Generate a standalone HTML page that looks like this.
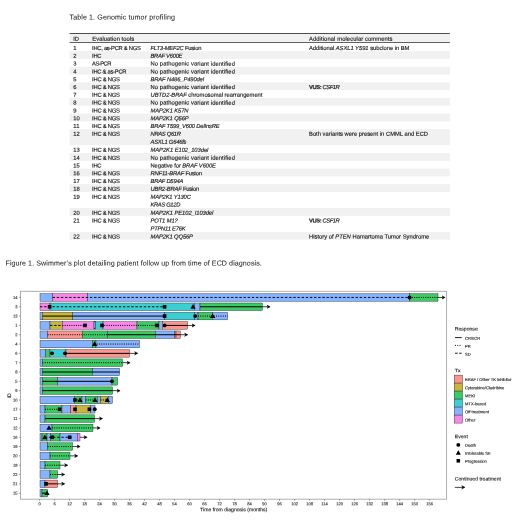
<!DOCTYPE html>
<html><head><meta charset="utf-8"><title>Figure</title>
<style>
html,body{margin:0;padding:0;background:#fff;}
body{width:520px;height:530px;position:relative;overflow:hidden;font-family:"Liberation Sans",sans-serif;color:#1a1a1a;text-rendering:geometricPrecision;}
.tb{font-size:5.8px;fill:#1a1a1a;stroke:#1a1a1a;stroke-width:0.15px;}
.tt,.cap{font-size:7.1px;fill:#222;stroke:#222;stroke-width:0.04px;}
svg{position:absolute;left:0;top:0;}
svg text{font-family:"Liberation Sans",sans-serif;text-rendering:geometricPrecision;}
.k{fill:#1a1a1a;stroke:#1a1a1a;stroke-width:0.12px;}
.g{fill:#3a3a3a;stroke:#3a3a3a;stroke-width:0.14px;}
#wrap{position:absolute;left:0;top:0;width:520px;height:530px;will-change:transform;}
</style></head><body><div id="wrap">
<svg width="520" height="530" viewBox="0 0 520 530">
<defs><marker id="ah" markerWidth="8" markerHeight="8" refX="3.3" refY="4" orient="auto" markerUnits="userSpaceOnUse"><path d="M0.3,2.2 L3.6,4 L0.3,5.8 L1.3,4 Z" fill="#000" stroke="#000" stroke-width="0.3" stroke-linejoin="round"/></marker></defs>
<text class="t tt" transform="translate(69.50,19.55) rotate(0.03)" letter-spacing="0.106">Table 1. Genomic tumor profiling</text>
<rect x="69.6" y="33.7" width="380.30" height="8.5" fill="#f1f1f1"/>
<rect x="69.6" y="33.0" width="380.30" height="0.8" fill="#222"/>
<rect x="69.6" y="42.15" width="380.30" height="0.7" fill="#222"/>
<text class="t tb" transform="translate(73.30,40.80) rotate(0.03)" letter-spacing="-0.118">ID</text>
<text class="t tb" transform="translate(92.30,40.80) rotate(0.03)" letter-spacing="0.056">Evaluation tools</text>
<text class="t tb" transform="translate(309.00,40.80) rotate(0.03)" letter-spacing="0.103">Additional molecular comments</text>
<text class="t tb" transform="translate(73.30,50.00) rotate(0.03)" letter-spacing="0.025">1</text>
<text class="t tb" transform="translate(92.10,50.00) rotate(0.03)" letter-spacing="-0.281">IHC, as-PCR &amp; NGS</text>
<text class="t tb" transform="translate(150.50,50.00) rotate(0.03)" letter-spacing="-0.168"><tspan font-style="italic">FLT3-MEF2C</tspan> Fusion</text>
<text class="t tb" transform="translate(309.00,50.00) rotate(0.03)" letter-spacing="-0.030">Additional <tspan font-style="italic">ASXL1 Y591</tspan> subclone in BM</text>
<rect x="69.6" y="51.15" width="380.30" height="7.80" fill="#f1f1f1"/>
<text class="t tb" transform="translate(73.30,57.80) rotate(0.03)" letter-spacing="0.025">2</text>
<text class="t tb" transform="translate(92.10,57.80) rotate(0.03)" letter-spacing="-0.310">IHC</text>
<text class="t tb" transform="translate(150.50,57.80) rotate(0.03)" letter-spacing="-0.269"><tspan font-style="italic">BRAF V600E</tspan></text>
<text class="t tb" transform="translate(73.30,65.60) rotate(0.03)" letter-spacing="0.025">3</text>
<text class="t tb" transform="translate(92.10,65.60) rotate(0.03)" letter-spacing="-0.504">AS-PCR</text>
<text class="t tb" transform="translate(150.50,65.60) rotate(0.03)" letter-spacing="0.102">No pathogenic variant identified</text>
<rect x="69.6" y="66.75" width="380.30" height="7.80" fill="#f1f1f1"/>
<text class="t tb" transform="translate(73.30,73.40) rotate(0.03)" letter-spacing="0.025">4</text>
<text class="t tb" transform="translate(92.10,73.40) rotate(0.03)" letter-spacing="-0.268">IHC &amp; as-PCR</text>
<text class="t tb" transform="translate(150.50,73.40) rotate(0.03)" letter-spacing="0.102">No pathogenic variant identified</text>
<text class="t tb" transform="translate(73.30,81.20) rotate(0.03)" letter-spacing="0.025">5</text>
<text class="t tb" transform="translate(92.10,81.20) rotate(0.03)" letter-spacing="-0.237">IHC &amp; NGS</text>
<text class="t tb" transform="translate(150.50,81.20) rotate(0.03)" letter-spacing="-0.113"><tspan font-style="italic">BRAF N486_P490del</tspan></text>
<rect x="69.6" y="82.35" width="380.30" height="7.80" fill="#f1f1f1"/>
<text class="t tb" transform="translate(73.30,89.00) rotate(0.03)" letter-spacing="0.025">6</text>
<text class="t tb" transform="translate(92.10,89.00) rotate(0.03)" letter-spacing="-0.237">IHC &amp; NGS</text>
<text class="t tb" transform="translate(150.50,89.00) rotate(0.03)" letter-spacing="0.102">No pathogenic variant identified</text>
<text class="t tb" transform="translate(309.00,89.00) rotate(0.03)" letter-spacing="-0.414"><tspan font-weight="bold">VUS:</tspan> <tspan font-style="italic">CSF1R</tspan></text>
<text class="t tb" transform="translate(73.30,96.80) rotate(0.03)" letter-spacing="0.025">7</text>
<text class="t tb" transform="translate(92.10,96.80) rotate(0.03)" letter-spacing="-0.237">IHC &amp; NGS</text>
<text class="t tb" transform="translate(150.50,96.80) rotate(0.03)" letter-spacing="-0.015"><tspan font-style="italic">UBTD2-BRAF</tspan> chromosomal rearrangement</text>
<rect x="69.6" y="97.95" width="380.30" height="7.80" fill="#f1f1f1"/>
<text class="t tb" transform="translate(73.30,104.60) rotate(0.03)" letter-spacing="0.025">8</text>
<text class="t tb" transform="translate(92.10,104.60) rotate(0.03)" letter-spacing="-0.237">IHC &amp; NGS</text>
<text class="t tb" transform="translate(150.50,104.60) rotate(0.03)" letter-spacing="0.102">No pathogenic variant identified</text>
<text class="t tb" transform="translate(73.30,112.40) rotate(0.03)" letter-spacing="0.025">9</text>
<text class="t tb" transform="translate(92.10,112.40) rotate(0.03)" letter-spacing="-0.237">IHC &amp; NGS</text>
<text class="t tb" transform="translate(150.50,112.40) rotate(0.03)" letter-spacing="-0.104"><tspan font-style="italic">MAP2K1 K57N</tspan></text>
<rect x="69.6" y="113.55" width="380.30" height="7.80" fill="#f1f1f1"/>
<text class="t tb" transform="translate(73.30,120.20) rotate(0.03)" letter-spacing="0.032">10</text>
<text class="t tb" transform="translate(92.10,120.20) rotate(0.03)" letter-spacing="-0.237">IHC &amp; NGS</text>
<text class="t tb" transform="translate(150.50,120.20) rotate(0.03)" letter-spacing="-0.118"><tspan font-style="italic">MAP2K1 Q56P</tspan></text>
<text class="t tb" transform="translate(73.30,128.00) rotate(0.03)" letter-spacing="0.243">11</text>
<text class="t tb" transform="translate(92.10,128.00) rotate(0.03)" letter-spacing="-0.237">IHC &amp; NGS</text>
<text class="t tb" transform="translate(150.50,128.00) rotate(0.03)" letter-spacing="-0.181"><tspan font-style="italic">BRAF T599_V600 DelInsRE</tspan></text>
<rect x="69.6" y="129.15" width="380.30" height="16.05" fill="#f1f1f1"/>
<text class="t tb" transform="translate(73.30,135.80) rotate(0.03)" letter-spacing="0.032">12</text>
<text class="t tb" transform="translate(92.10,135.80) rotate(0.03)" letter-spacing="-0.237">IHC &amp; NGS</text>
<text class="t tb" transform="translate(150.50,135.80) rotate(0.03)" letter-spacing="-0.308"><tspan font-style="italic">NRAS Q61R</tspan></text>
<text class="t tb" transform="translate(150.50,143.70) rotate(0.03)" letter-spacing="-0.218"><tspan font-style="italic">ASXL1 G646fs</tspan></text>
<text class="t tb" transform="translate(309.00,135.80) rotate(0.03)" letter-spacing="0.009">Both variants were present in CMML and ECD</text>
<text class="t tb" transform="translate(73.30,151.85) rotate(0.03)" letter-spacing="0.032">13</text>
<text class="t tb" transform="translate(92.10,151.85) rotate(0.03)" letter-spacing="-0.237">IHC &amp; NGS</text>
<text class="t tb" transform="translate(150.50,151.85) rotate(0.03)" letter-spacing="-0.048"><tspan font-style="italic">MAP2K1 E102_103del</tspan></text>
<rect x="69.6" y="153.00" width="380.30" height="7.80" fill="#f1f1f1"/>
<text class="t tb" transform="translate(73.30,159.65) rotate(0.03)" letter-spacing="0.032">14</text>
<text class="t tb" transform="translate(92.10,159.65) rotate(0.03)" letter-spacing="-0.237">IHC &amp; NGS</text>
<text class="t tb" transform="translate(150.50,159.65) rotate(0.03)" letter-spacing="0.102">No pathogenic variant identified</text>
<text class="t tb" transform="translate(73.30,167.45) rotate(0.03)" letter-spacing="0.032">15</text>
<text class="t tb" transform="translate(92.10,167.45) rotate(0.03)" letter-spacing="-0.310">IHC</text>
<text class="t tb" transform="translate(150.50,167.45) rotate(0.03)" letter-spacing="-0.082">Negative for <tspan font-style="italic">BRAF V600E</tspan></text>
<rect x="69.6" y="168.60" width="380.30" height="7.80" fill="#f1f1f1"/>
<text class="t tb" transform="translate(73.30,175.25) rotate(0.03)" letter-spacing="0.032">16</text>
<text class="t tb" transform="translate(92.10,175.25) rotate(0.03)" letter-spacing="-0.237">IHC &amp; NGS</text>
<text class="t tb" transform="translate(150.50,175.25) rotate(0.03)" letter-spacing="-0.179"><tspan font-style="italic">RNF11-BRAF</tspan> Fusion</text>
<text class="t tb" transform="translate(73.30,183.05) rotate(0.03)" letter-spacing="0.032">17</text>
<text class="t tb" transform="translate(92.10,183.05) rotate(0.03)" letter-spacing="-0.237">IHC &amp; NGS</text>
<text class="t tb" transform="translate(150.50,183.05) rotate(0.03)" letter-spacing="-0.213"><tspan font-style="italic">BRAF D594A</tspan></text>
<rect x="69.6" y="184.20" width="380.30" height="7.80" fill="#f1f1f1"/>
<text class="t tb" transform="translate(73.30,190.85) rotate(0.03)" letter-spacing="0.032">18</text>
<text class="t tb" transform="translate(92.10,190.85) rotate(0.03)" letter-spacing="-0.237">IHC &amp; NGS</text>
<text class="t tb" transform="translate(150.50,190.85) rotate(0.03)" letter-spacing="-0.208"><tspan font-style="italic">UBR2-BRAF</tspan> Fusion</text>
<text class="t tb" transform="translate(73.30,198.65) rotate(0.03)" letter-spacing="0.032">19</text>
<text class="t tb" transform="translate(92.10,198.65) rotate(0.03)" letter-spacing="-0.237">IHC &amp; NGS</text>
<text class="t tb" transform="translate(150.50,198.65) rotate(0.03)" letter-spacing="-0.160"><tspan font-style="italic">MAP2K1 Y130C</tspan></text>
<text class="t tb" transform="translate(150.50,206.55) rotate(0.03)" letter-spacing="-0.340"><tspan font-style="italic">KRAS G12D</tspan></text>
<rect x="69.6" y="208.05" width="380.30" height="7.80" fill="#f1f1f1"/>
<text class="t tb" transform="translate(73.30,214.70) rotate(0.03)" letter-spacing="0.032">20</text>
<text class="t tb" transform="translate(92.10,214.70) rotate(0.03)" letter-spacing="-0.237">IHC &amp; NGS</text>
<text class="t tb" transform="translate(150.50,214.70) rotate(0.03)" letter-spacing="-0.070"><tspan font-style="italic">MAP2K1 PE102_I103del</tspan></text>
<text class="t tb" transform="translate(73.30,222.50) rotate(0.03)" letter-spacing="0.032">21</text>
<text class="t tb" transform="translate(92.10,222.50) rotate(0.03)" letter-spacing="-0.237">IHC &amp; NGS</text>
<text class="t tb" transform="translate(150.50,222.50) rotate(0.03)" letter-spacing="-0.109"><tspan font-style="italic">POT1 M1?</tspan></text>
<text class="t tb" transform="translate(150.50,230.40) rotate(0.03)" letter-spacing="-0.217"><tspan font-style="italic">PTPN11 E76K</tspan></text>
<text class="t tb" transform="translate(309.00,222.50) rotate(0.03)" letter-spacing="-0.414"><tspan font-weight="bold">VUS:</tspan> <tspan font-style="italic">CSF1R</tspan></text>
<rect x="69.6" y="231.90" width="380.30" height="7.80" fill="#f1f1f1"/>
<text class="t tb" transform="translate(73.30,238.55) rotate(0.03)" letter-spacing="0.032">22</text>
<text class="t tb" transform="translate(92.10,238.55) rotate(0.03)" letter-spacing="-0.237">IHC &amp; NGS</text>
<text class="t tb" transform="translate(150.50,238.55) rotate(0.03)" letter-spacing="-0.124"><tspan font-style="italic">MAP2K1 QQ56P</tspan></text>
<text class="t tb" transform="translate(309.00,238.55) rotate(0.03)" letter-spacing="0.018">History of <tspan font-style="italic">PTEN</tspan> Hamartoma Tumor Syndrome</text>
<text class="t cap" transform="translate(5.50,265.40) rotate(0.03)" letter-spacing="0.078">Figure 1. Swimmer’s plot detailing patient follow up from time of ECD diagnosis.</text>
<rect x="20.45" y="291.3" width="426.15000000000003" height="207.89999999999998" fill="#fff" stroke="#a6a6a6" stroke-width="0.9"/>
<rect x="40" y="293.68" width="12.60" height="7.55" fill="#85B3FF" stroke="#111" stroke-width="0.36"/><rect x="52.6" y="293.68" width="35.00" height="7.55" fill="#F788E9" stroke="#111" stroke-width="0.36"/><rect x="87.6" y="293.68" width="322.00" height="7.55" fill="#85B3FF" stroke="#111" stroke-width="0.36"/><rect x="409.6" y="293.68" width="28.40" height="7.55" fill="#3BCA66" stroke="#111" stroke-width="0.36"/><line x1="52.6" y1="297.45" x2="409.6" y2="297.45" stroke="#000" stroke-width="0.95" stroke-dasharray="2.4 1.75"/><line x1="409.6" y1="297.45" x2="438" y2="297.45" stroke="#000" stroke-width="1.0" stroke-dasharray="1 1.25"/><line x1="438" y1="297.45" x2="444.9" y2="297.45" stroke="#000" stroke-width="0.75" marker-end="url(#ah)"/><circle cx="409.6" cy="297.45" r="1.95" fill="#000"/><line x1="19.0" y1="297.45" x2="20.45" y2="297.45" stroke="#444" stroke-width="0.5"/><text transform="translate(17.6,298.9) rotate(0.03)" font-size="4.1" class="g" text-anchor="end">14</text>
<rect x="40" y="303.00" width="10.00" height="7.55" fill="#F788E9" stroke="#111" stroke-width="0.36"/><rect x="50" y="303.00" width="144.60" height="7.55" fill="#3BCED2" stroke="#111" stroke-width="0.36"/><rect x="194.6" y="303.00" width="5.40" height="7.55" fill="#85B3FF" stroke="#111" stroke-width="0.36"/><rect x="200" y="303.00" width="62.40" height="7.55" fill="#3BCA66" stroke="#111" stroke-width="0.36"/><line x1="40" y1="306.77" x2="164.6" y2="306.77" stroke="#000" stroke-width="0.95" stroke-dasharray="2.4 1.75"/><line x1="200" y1="306.77" x2="262.4" y2="306.77" stroke="#000" stroke-width="1.0"/><line x1="262.4" y1="306.77" x2="269.9" y2="306.77" stroke="#000" stroke-width="0.75" marker-end="url(#ah)"/><rect x="47.79" y="304.96" width="3.63" height="3.63" fill="#000"/><rect x="162.79" y="304.96" width="3.63" height="3.63" fill="#000"/><path d="M193.00,304.00 L195.63,308.71 L190.37,308.71 Z" fill="#000"/><line x1="19.0" y1="306.77" x2="20.45" y2="306.77" stroke="#444" stroke-width="0.5"/><text transform="translate(17.6,308.22) rotate(0.03)" font-size="4.1" class="g" text-anchor="end">3</text>
<rect x="40" y="312.31" width="2.40" height="7.55" fill="#85B3FF" stroke="#111" stroke-width="0.36"/><rect x="42.4" y="312.31" width="30.20" height="7.55" fill="#C8B53B" stroke="#111" stroke-width="0.36"/><rect x="72.6" y="312.31" width="92.00" height="7.55" fill="#85B3FF" stroke="#111" stroke-width="0.36"/><rect x="164.6" y="312.31" width="30.00" height="7.55" fill="#3BCED2" stroke="#111" stroke-width="0.36"/><rect x="194.6" y="312.31" width="3.40" height="7.55" fill="#85B3FF" stroke="#111" stroke-width="0.36"/><rect x="198" y="312.31" width="14.30" height="7.55" fill="#3BCA66" stroke="#111" stroke-width="0.36"/><rect x="212.3" y="312.31" width="15.30" height="7.55" fill="#85B3FF" stroke="#111" stroke-width="0.36"/><line x1="42.4" y1="316.09" x2="164.6" y2="316.09" stroke="#000" stroke-width="1.0"/><line x1="198" y1="316.09" x2="227.6" y2="316.09" stroke="#000" stroke-width="1.0" stroke-dasharray="1 1.25"/><rect x="162.79" y="314.28" width="3.63" height="3.63" fill="#000"/><circle cx="195.2" cy="316.09" r="1.95" fill="#000"/><path d="M212.60,313.32 L215.23,318.03 L209.97,318.03 Z" fill="#000"/><line x1="19.0" y1="316.09" x2="20.45" y2="316.09" stroke="#444" stroke-width="0.5"/><text transform="translate(17.6,317.54) rotate(0.03)" font-size="4.1" class="g" text-anchor="end">13</text>
<rect x="40" y="321.63" width="10.00" height="7.55" fill="#85B3FF" stroke="#111" stroke-width="0.36"/><rect x="50" y="321.63" width="12.40" height="7.55" fill="#C8B53B" stroke="#111" stroke-width="0.36"/><rect x="62.4" y="321.63" width="31.60" height="7.55" fill="#F788E9" stroke="#111" stroke-width="0.36"/><rect x="94" y="321.63" width="1.60" height="7.55" fill="#85B3FF" stroke="#111" stroke-width="0.36"/><rect x="95.6" y="321.63" width="7.40" height="7.55" fill="#3BCED2" stroke="#111" stroke-width="0.36"/><rect x="103" y="321.63" width="34.00" height="7.55" fill="#F788E9" stroke="#111" stroke-width="0.36"/><rect x="137" y="321.63" width="22.00" height="7.55" fill="#3BCA66" stroke="#111" stroke-width="0.36"/><rect x="159" y="321.63" width="3.40" height="7.55" fill="#85B3FF" stroke="#111" stroke-width="0.36"/><rect x="162.4" y="321.63" width="25.20" height="7.55" fill="#FA968F" stroke="#111" stroke-width="0.36"/><line x1="50" y1="325.41" x2="62.4" y2="325.41" stroke="#000" stroke-width="0.95" stroke-dasharray="2.4 1.75"/><line x1="62.4" y1="325.41" x2="85" y2="325.41" stroke="#000" stroke-width="1.0" stroke-dasharray="1 1.25"/><line x1="102" y1="325.41" x2="157" y2="325.41" stroke="#000" stroke-width="1.0" stroke-dasharray="1 1.25"/><line x1="164.6" y1="325.41" x2="187.6" y2="325.41" stroke="#000" stroke-width="1.0"/><line x1="187.6" y1="325.41" x2="194.9" y2="325.41" stroke="#000" stroke-width="0.75" marker-end="url(#ah)"/><rect x="83.19" y="323.60" width="3.63" height="3.63" fill="#000"/><rect x="100.19" y="323.60" width="3.63" height="3.63" fill="#000"/><rect x="155.19" y="323.60" width="3.63" height="3.63" fill="#000"/><circle cx="164.6" cy="325.41" r="1.95" fill="#000"/><line x1="19.0" y1="325.41" x2="20.45" y2="325.41" stroke="#444" stroke-width="0.5"/><text transform="translate(17.6,326.86) rotate(0.03)" font-size="4.1" class="g" text-anchor="end">1</text>
<rect x="40" y="330.96" width="7.60" height="7.55" fill="#85B3FF" stroke="#111" stroke-width="0.36"/><rect x="47.6" y="330.96" width="35.00" height="7.55" fill="#FA968F" stroke="#111" stroke-width="0.36"/><rect x="82.6" y="330.96" width="25.00" height="7.55" fill="#3BCA66" stroke="#111" stroke-width="0.36"/><rect x="107.6" y="330.96" width="47.80" height="7.55" fill="#3BCA66" stroke="#111" stroke-width="0.36"/><rect x="155.4" y="330.96" width="19.20" height="7.55" fill="#85B3FF" stroke="#111" stroke-width="0.36"/><rect x="174.6" y="330.96" width="1.40" height="7.55" fill="#FA968F" stroke="#111" stroke-width="0.36"/><rect x="176" y="330.96" width="4.40" height="7.55" fill="#FA968F" stroke="#111" stroke-width="0.36"/><line x1="47.6" y1="334.73" x2="107.6" y2="334.73" stroke="#000" stroke-width="1.0" stroke-dasharray="1 1.25"/><line x1="107.6" y1="334.73" x2="180.4" y2="334.73" stroke="#000" stroke-width="1.0"/><line x1="180.4" y1="334.73" x2="187.5" y2="334.73" stroke="#000" stroke-width="0.75" marker-end="url(#ah)"/><line x1="19.0" y1="334.73" x2="20.45" y2="334.73" stroke="#444" stroke-width="0.5"/><text transform="translate(17.6,336.18) rotate(0.03)" font-size="4.1" class="g" text-anchor="end">2</text>
<rect x="40" y="340.28" width="52.60" height="7.55" fill="#85B3FF" stroke="#111" stroke-width="0.36"/><rect x="92.6" y="340.28" width="3.40" height="7.55" fill="#3BCA66" stroke="#111" stroke-width="0.36"/><rect x="96" y="340.28" width="43.60" height="7.55" fill="#85B3FF" stroke="#111" stroke-width="0.36"/><line x1="94.6" y1="344.05" x2="139.6" y2="344.05" stroke="#000" stroke-width="1.0" stroke-dasharray="1 1.25"/><path d="M94.60,341.28 L97.23,345.99 L91.97,345.99 Z" fill="#000"/><line x1="19.0" y1="344.05" x2="20.45" y2="344.05" stroke="#444" stroke-width="0.5"/><text transform="translate(17.6,345.5) rotate(0.03)" font-size="4.1" class="g" text-anchor="end">4</text>
<rect x="40" y="349.60" width="5.60" height="7.55" fill="#85B3FF" stroke="#111" stroke-width="0.36"/><rect x="45.6" y="349.60" width="4.40" height="7.55" fill="#3BCA66" stroke="#111" stroke-width="0.36"/><rect x="50" y="349.60" width="16.00" height="7.55" fill="#3BCED2" stroke="#111" stroke-width="0.36"/><rect x="66" y="349.60" width="63.60" height="7.55" fill="#FA968F" stroke="#111" stroke-width="0.36"/><line x1="65" y1="353.37" x2="129.6" y2="353.37" stroke="#000" stroke-width="1.0"/><line x1="129.6" y1="353.37" x2="137.5" y2="353.37" stroke="#000" stroke-width="0.75" marker-end="url(#ah)"/><circle cx="52" cy="353.37" r="1.95" fill="#000"/><circle cx="65" cy="353.37" r="1.95" fill="#000"/><line x1="19.0" y1="353.37" x2="20.45" y2="353.37" stroke="#444" stroke-width="0.5"/><text transform="translate(17.6,354.82) rotate(0.03)" font-size="4.1" class="g" text-anchor="end">6</text>
<rect x="40" y="358.92" width="2.40" height="7.55" fill="#85B3FF" stroke="#111" stroke-width="0.36"/><rect x="42.4" y="358.92" width="80.20" height="7.55" fill="#3BCA66" stroke="#111" stroke-width="0.36"/><line x1="42.4" y1="362.69" x2="122.6" y2="362.69" stroke="#000" stroke-width="1.0" stroke-dasharray="1 1.25"/><line x1="122.6" y1="362.69" x2="129.9" y2="362.69" stroke="#000" stroke-width="0.75" marker-end="url(#ah)"/><line x1="19.0" y1="362.69" x2="20.45" y2="362.69" stroke="#444" stroke-width="0.5"/><text transform="translate(17.6,364.14) rotate(0.03)" font-size="4.1" class="g" text-anchor="end">7</text>
<rect x="40" y="368.24" width="2.40" height="7.55" fill="#85B3FF" stroke="#111" stroke-width="0.36"/><rect x="42.4" y="368.24" width="50.20" height="7.55" fill="#3BCA66" stroke="#111" stroke-width="0.36"/><rect x="92.6" y="368.24" width="27.00" height="7.55" fill="#85B3FF" stroke="#111" stroke-width="0.36"/><line x1="42.4" y1="372.01" x2="119.6" y2="372.01" stroke="#000" stroke-width="1.0"/><line x1="19.0" y1="372.01" x2="20.45" y2="372.01" stroke="#444" stroke-width="0.5"/><text transform="translate(17.6,373.46) rotate(0.03)" font-size="4.1" class="g" text-anchor="end">8</text>
<rect x="40" y="377.56" width="2.40" height="7.55" fill="#85B3FF" stroke="#111" stroke-width="0.36"/><rect x="42.4" y="377.56" width="15.20" height="7.55" fill="#3BCA66" stroke="#111" stroke-width="0.36"/><rect x="57.6" y="377.56" width="54.40" height="7.55" fill="#85B3FF" stroke="#111" stroke-width="0.36"/><rect x="112" y="377.56" width="5.60" height="7.55" fill="#3BCA66" stroke="#111" stroke-width="0.36"/><line x1="42.4" y1="381.33" x2="112" y2="381.33" stroke="#000" stroke-width="1.0"/><circle cx="112" cy="381.33" r="1.95" fill="#000"/><line x1="19.0" y1="381.33" x2="20.45" y2="381.33" stroke="#444" stroke-width="0.5"/><text transform="translate(17.6,382.78) rotate(0.03)" font-size="4.1" class="g" text-anchor="end">5</text>
<rect x="40" y="386.88" width="2.40" height="7.55" fill="#85B3FF" stroke="#111" stroke-width="0.36"/><rect x="42.4" y="386.88" width="70.20" height="7.55" fill="#3BCA66" stroke="#111" stroke-width="0.36"/><line x1="42.4" y1="390.65" x2="112.6" y2="390.65" stroke="#000" stroke-width="1.0"/><line x1="112.6" y1="390.65" x2="119.9" y2="390.65" stroke="#000" stroke-width="0.75" marker-end="url(#ah)"/><line x1="19.0" y1="390.65" x2="20.45" y2="390.65" stroke="#444" stroke-width="0.5"/><text transform="translate(17.6,392.1) rotate(0.03)" font-size="4.1" class="g" text-anchor="end">9</text>
<rect x="40" y="396.20" width="34.40" height="7.55" fill="#85B3FF" stroke="#111" stroke-width="0.36"/><rect x="74.4" y="396.20" width="7.60" height="7.55" fill="#3BCA66" stroke="#111" stroke-width="0.36"/><rect x="82" y="396.20" width="3.60" height="7.55" fill="#85B3FF" stroke="#111" stroke-width="0.36"/><rect x="85.6" y="396.20" width="11.90" height="7.55" fill="#3BCA66" stroke="#111" stroke-width="0.36"/><rect x="97.5" y="396.20" width="3.10" height="7.55" fill="#85B3FF" stroke="#111" stroke-width="0.36"/><rect x="100.6" y="396.20" width="7.70" height="7.55" fill="#C8B53B" stroke="#111" stroke-width="0.36"/><rect x="108.3" y="396.20" width="4.20" height="7.55" fill="#85B3FF" stroke="#111" stroke-width="0.36"/><line x1="75" y1="399.97" x2="80" y2="399.97" stroke="#000" stroke-width="1.0" stroke-dasharray="1 1.25"/><line x1="85.6" y1="399.97" x2="95" y2="399.97" stroke="#000" stroke-width="1.0" stroke-dasharray="1 1.25"/><line x1="100.6" y1="399.97" x2="107.3" y2="399.97" stroke="#000" stroke-width="1.0" stroke-dasharray="1 1.25"/><rect x="73.19" y="398.16" width="3.63" height="3.63" fill="#000"/><path d="M80.00,397.20 L82.63,401.91 L77.37,401.91 Z" fill="#000"/><path d="M95.00,397.20 L97.63,401.91 L92.37,401.91 Z" fill="#000"/><path d="M107.30,397.20 L109.93,401.91 L104.67,401.91 Z" fill="#000"/><line x1="19.0" y1="399.97" x2="20.45" y2="399.97" stroke="#444" stroke-width="0.5"/><text transform="translate(17.6,401.42) rotate(0.03)" font-size="4.1" class="g" text-anchor="end">10</text>
<rect x="40" y="405.51" width="5.00" height="7.55" fill="#85B3FF" stroke="#111" stroke-width="0.36"/><rect x="45" y="405.51" width="17.00" height="7.55" fill="#3BCA66" stroke="#111" stroke-width="0.36"/><rect x="62" y="405.51" width="8.60" height="7.55" fill="#85B3FF" stroke="#111" stroke-width="0.36"/><rect x="70.6" y="405.51" width="5.40" height="7.55" fill="#FA968F" stroke="#111" stroke-width="0.36"/><rect x="76" y="405.51" width="14.60" height="7.55" fill="#C8B53B" stroke="#111" stroke-width="0.36"/><rect x="90.6" y="405.51" width="4.40" height="7.55" fill="#85B3FF" stroke="#111" stroke-width="0.36"/><line x1="45" y1="409.29" x2="59.6" y2="409.29" stroke="#000" stroke-width="1.0" stroke-dasharray="1 1.25"/><rect x="57.79" y="407.48" width="3.63" height="3.63" fill="#000"/><rect x="73.19" y="407.48" width="3.63" height="3.63" fill="#000"/><rect x="87.59" y="407.48" width="3.63" height="3.63" fill="#000"/><circle cx="94.75" cy="409.29" r="1.95" fill="#000"/><line x1="19.0" y1="409.29" x2="20.45" y2="409.29" stroke="#444" stroke-width="0.5"/><text transform="translate(17.6,410.74) rotate(0.03)" font-size="4.1" class="g" text-anchor="end">17</text>
<rect x="40" y="414.84" width="5.00" height="7.55" fill="#85B3FF" stroke="#111" stroke-width="0.36"/><rect x="45" y="414.84" width="49.60" height="7.55" fill="#3BCA66" stroke="#111" stroke-width="0.36"/><line x1="45" y1="418.61" x2="94.6" y2="418.61" stroke="#000" stroke-width="1.0"/><line x1="94.6" y1="418.61" x2="102.30000000000001" y2="418.61" stroke="#000" stroke-width="0.75" marker-end="url(#ah)"/><line x1="19.0" y1="418.61" x2="20.45" y2="418.61" stroke="#444" stroke-width="0.5"/><text transform="translate(17.6,420.06) rotate(0.03)" font-size="4.1" class="g" text-anchor="end">11</text>
<rect x="40" y="424.16" width="12.00" height="7.55" fill="#85B3FF" stroke="#111" stroke-width="0.36"/><rect x="52" y="424.16" width="41.00" height="7.55" fill="#3BCA66" stroke="#111" stroke-width="0.36"/><line x1="52" y1="427.93" x2="93" y2="427.93" stroke="#000" stroke-width="1.0" stroke-dasharray="1 1.25"/><line x1="93" y1="427.93" x2="99.9" y2="427.93" stroke="#000" stroke-width="0.75" marker-end="url(#ah)"/><path d="M49.00,425.16 L51.63,429.87 L46.37,429.87 Z" fill="#000"/><line x1="19.0" y1="427.93" x2="20.45" y2="427.93" stroke="#444" stroke-width="0.5"/><text transform="translate(17.6,429.38) rotate(0.03)" font-size="4.1" class="g" text-anchor="end">12</text>
<rect x="40" y="433.48" width="2.00" height="7.55" fill="#85B3FF" stroke="#111" stroke-width="0.36"/><rect x="42" y="433.48" width="5.00" height="7.55" fill="#3BCA66" stroke="#111" stroke-width="0.36"/><rect x="47" y="433.48" width="3.60" height="7.55" fill="#85B3FF" stroke="#111" stroke-width="0.36"/><rect x="50.6" y="433.48" width="9.40" height="7.55" fill="#3BCA66" stroke="#111" stroke-width="0.36"/><rect x="60" y="433.48" width="17.50" height="7.55" fill="#85B3FF" stroke="#111" stroke-width="0.36"/><rect x="77.5" y="433.48" width="2.50" height="7.55" fill="#F788E9" stroke="#111" stroke-width="0.36"/><line x1="44.75" y1="437.25" x2="69.75" y2="437.25" stroke="#000" stroke-width="0.95" stroke-dasharray="2.4 1.75"/><line x1="80" y1="437.25" x2="86.9" y2="437.25" stroke="#000" stroke-width="0.75" marker-end="url(#ah)"/><path d="M44.75,434.48 L47.38,439.19 L42.12,439.19 Z" fill="#000"/><rect x="50.44" y="435.44" width="3.63" height="3.63" fill="#000"/><rect x="67.94" y="435.44" width="3.63" height="3.63" fill="#000"/><line x1="19.0" y1="437.25" x2="20.45" y2="437.25" stroke="#444" stroke-width="0.5"/><text transform="translate(17.6,438.7) rotate(0.03)" font-size="4.1" class="g" text-anchor="end">16</text>
<rect x="40" y="442.80" width="7.60" height="7.55" fill="#85B3FF" stroke="#111" stroke-width="0.36"/><rect x="47.6" y="442.80" width="25.00" height="7.55" fill="#3BCA66" stroke="#111" stroke-width="0.36"/><line x1="47.6" y1="446.57" x2="72.6" y2="446.57" stroke="#000" stroke-width="1.0" stroke-dasharray="1 1.25"/><line x1="72.6" y1="446.57" x2="79.9" y2="446.57" stroke="#000" stroke-width="0.75" marker-end="url(#ah)"/><line x1="19.0" y1="446.57" x2="20.45" y2="446.57" stroke="#444" stroke-width="0.5"/><text transform="translate(17.6,448.02) rotate(0.03)" font-size="4.1" class="g" text-anchor="end">19</text>
<rect x="40" y="452.12" width="10.00" height="7.55" fill="#85B3FF" stroke="#111" stroke-width="0.36"/><rect x="50" y="452.12" width="20.00" height="7.55" fill="#3BCA66" stroke="#111" stroke-width="0.36"/><line x1="50" y1="455.89" x2="70" y2="455.89" stroke="#000" stroke-width="1.0" stroke-dasharray="1 1.25"/><line x1="70" y1="455.89" x2="77.5" y2="455.89" stroke="#000" stroke-width="0.75" marker-end="url(#ah)"/><line x1="19.0" y1="455.89" x2="20.45" y2="455.89" stroke="#444" stroke-width="0.5"/><text transform="translate(17.6,457.34) rotate(0.03)" font-size="4.1" class="g" text-anchor="end">20</text>
<rect x="40" y="461.44" width="5.00" height="7.55" fill="#85B3FF" stroke="#111" stroke-width="0.36"/><rect x="45" y="461.44" width="15.00" height="7.55" fill="#3BCA66" stroke="#111" stroke-width="0.36"/><line x1="45" y1="465.21" x2="60" y2="465.21" stroke="#000" stroke-width="1.0" stroke-dasharray="1 1.25"/><line x1="60" y1="465.21" x2="67.5" y2="465.21" stroke="#000" stroke-width="0.75" marker-end="url(#ah)"/><line x1="19.0" y1="465.21" x2="20.45" y2="465.21" stroke="#444" stroke-width="0.5"/><text transform="translate(17.6,466.66) rotate(0.03)" font-size="4.1" class="g" text-anchor="end">18</text>
<rect x="40" y="470.75" width="10.00" height="7.55" fill="#85B3FF" stroke="#111" stroke-width="0.36"/><rect x="50" y="470.75" width="7.60" height="7.55" fill="#3BCA66" stroke="#111" stroke-width="0.36"/><line x1="50" y1="474.53" x2="57.6" y2="474.53" stroke="#000" stroke-width="1.0" stroke-dasharray="1 1.25"/><line x1="57.6" y1="474.53" x2="64.5" y2="474.53" stroke="#000" stroke-width="0.75" marker-end="url(#ah)"/><line x1="19.0" y1="474.53" x2="20.45" y2="474.53" stroke="#444" stroke-width="0.5"/><text transform="translate(17.6,475.98) rotate(0.03)" font-size="4.1" class="g" text-anchor="end">22</text>
<rect x="40" y="480.08" width="5.00" height="7.55" fill="#85B3FF" stroke="#111" stroke-width="0.36"/><rect x="45" y="480.08" width="12.60" height="7.55" fill="#FA968F" stroke="#111" stroke-width="0.36"/><line x1="46" y1="483.85" x2="57.6" y2="483.85" stroke="#000" stroke-width="1.0"/><line x1="57.6" y1="483.85" x2="64.5" y2="483.85" stroke="#000" stroke-width="0.75" marker-end="url(#ah)"/><rect x="44.19" y="482.04" width="3.63" height="3.63" fill="#000"/><line x1="19.0" y1="483.85" x2="20.45" y2="483.85" stroke="#444" stroke-width="0.5"/><text transform="translate(17.6,485.3) rotate(0.03)" font-size="4.1" class="g" text-anchor="end">21</text>
<rect x="40" y="489.39" width="2.00" height="7.55" fill="#85B3FF" stroke="#111" stroke-width="0.36"/><rect x="42" y="489.39" width="5.60" height="7.55" fill="#3BCA66" stroke="#111" stroke-width="0.36"/><line x1="42" y1="493.17" x2="47" y2="493.17" stroke="#000" stroke-width="1.0"/><path d="M47.00,490.40 L49.63,495.11 L44.37,495.11 Z" fill="#000"/><line x1="19.0" y1="493.17" x2="20.45" y2="493.17" stroke="#444" stroke-width="0.5"/><text transform="translate(17.6,494.62) rotate(0.03)" font-size="4.1" class="g" text-anchor="end">15</text>
<line x1="39.60" y1="499.2" x2="39.60" y2="500.7" stroke="#444" stroke-width="0.5"/><text transform="translate(39.6,505.3) rotate(0.03)" font-size="4.1" class="g" text-anchor="middle">0</text><line x1="54.60" y1="499.2" x2="54.60" y2="500.7" stroke="#444" stroke-width="0.5"/><text transform="translate(54.6,505.3) rotate(0.03)" font-size="4.1" class="g" text-anchor="middle">6</text><line x1="69.60" y1="499.2" x2="69.60" y2="500.7" stroke="#444" stroke-width="0.5"/><text transform="translate(69.6,505.3) rotate(0.03)" font-size="4.1" class="g" text-anchor="middle">12</text><line x1="84.60" y1="499.2" x2="84.60" y2="500.7" stroke="#444" stroke-width="0.5"/><text transform="translate(84.6,505.3) rotate(0.03)" font-size="4.1" class="g" text-anchor="middle">18</text><line x1="99.60" y1="499.2" x2="99.60" y2="500.7" stroke="#444" stroke-width="0.5"/><text transform="translate(99.6,505.3) rotate(0.03)" font-size="4.1" class="g" text-anchor="middle">24</text><line x1="114.60" y1="499.2" x2="114.60" y2="500.7" stroke="#444" stroke-width="0.5"/><text transform="translate(114.6,505.3) rotate(0.03)" font-size="4.1" class="g" text-anchor="middle">30</text><line x1="129.60" y1="499.2" x2="129.60" y2="500.7" stroke="#444" stroke-width="0.5"/><text transform="translate(129.6,505.3) rotate(0.03)" font-size="4.1" class="g" text-anchor="middle">36</text><line x1="144.60" y1="499.2" x2="144.60" y2="500.7" stroke="#444" stroke-width="0.5"/><text transform="translate(144.6,505.3) rotate(0.03)" font-size="4.1" class="g" text-anchor="middle">42</text><line x1="159.60" y1="499.2" x2="159.60" y2="500.7" stroke="#444" stroke-width="0.5"/><text transform="translate(159.6,505.3) rotate(0.03)" font-size="4.1" class="g" text-anchor="middle">48</text><line x1="174.60" y1="499.2" x2="174.60" y2="500.7" stroke="#444" stroke-width="0.5"/><text transform="translate(174.6,505.3) rotate(0.03)" font-size="4.1" class="g" text-anchor="middle">54</text><line x1="189.60" y1="499.2" x2="189.60" y2="500.7" stroke="#444" stroke-width="0.5"/><text transform="translate(189.6,505.3) rotate(0.03)" font-size="4.1" class="g" text-anchor="middle">60</text><line x1="204.60" y1="499.2" x2="204.60" y2="500.7" stroke="#444" stroke-width="0.5"/><text transform="translate(204.6,505.3) rotate(0.03)" font-size="4.1" class="g" text-anchor="middle">66</text><line x1="219.60" y1="499.2" x2="219.60" y2="500.7" stroke="#444" stroke-width="0.5"/><text transform="translate(219.6,505.3) rotate(0.03)" font-size="4.1" class="g" text-anchor="middle">72</text><line x1="234.60" y1="499.2" x2="234.60" y2="500.7" stroke="#444" stroke-width="0.5"/><text transform="translate(234.6,505.3) rotate(0.03)" font-size="4.1" class="g" text-anchor="middle">78</text><line x1="249.60" y1="499.2" x2="249.60" y2="500.7" stroke="#444" stroke-width="0.5"/><text transform="translate(249.6,505.3) rotate(0.03)" font-size="4.1" class="g" text-anchor="middle">84</text><line x1="264.60" y1="499.2" x2="264.60" y2="500.7" stroke="#444" stroke-width="0.5"/><text transform="translate(264.6,505.3) rotate(0.03)" font-size="4.1" class="g" text-anchor="middle">90</text><line x1="279.60" y1="499.2" x2="279.60" y2="500.7" stroke="#444" stroke-width="0.5"/><text transform="translate(279.6,505.3) rotate(0.03)" font-size="4.1" class="g" text-anchor="middle">96</text><line x1="294.60" y1="499.2" x2="294.60" y2="500.7" stroke="#444" stroke-width="0.5"/><text transform="translate(294.6,505.3) rotate(0.03)" font-size="4.1" class="g" text-anchor="middle">102</text><line x1="309.60" y1="499.2" x2="309.60" y2="500.7" stroke="#444" stroke-width="0.5"/><text transform="translate(309.6,505.3) rotate(0.03)" font-size="4.1" class="g" text-anchor="middle">108</text><line x1="324.60" y1="499.2" x2="324.60" y2="500.7" stroke="#444" stroke-width="0.5"/><text transform="translate(324.6,505.3) rotate(0.03)" font-size="4.1" class="g" text-anchor="middle">114</text><line x1="339.60" y1="499.2" x2="339.60" y2="500.7" stroke="#444" stroke-width="0.5"/><text transform="translate(339.6,505.3) rotate(0.03)" font-size="4.1" class="g" text-anchor="middle">120</text><line x1="354.60" y1="499.2" x2="354.60" y2="500.7" stroke="#444" stroke-width="0.5"/><text transform="translate(354.6,505.3) rotate(0.03)" font-size="4.1" class="g" text-anchor="middle">126</text><line x1="369.60" y1="499.2" x2="369.60" y2="500.7" stroke="#444" stroke-width="0.5"/><text transform="translate(369.6,505.3) rotate(0.03)" font-size="4.1" class="g" text-anchor="middle">132</text><line x1="384.60" y1="499.2" x2="384.60" y2="500.7" stroke="#444" stroke-width="0.5"/><text transform="translate(384.6,505.3) rotate(0.03)" font-size="4.1" class="g" text-anchor="middle">138</text><line x1="399.60" y1="499.2" x2="399.60" y2="500.7" stroke="#444" stroke-width="0.5"/><text transform="translate(399.6,505.3) rotate(0.03)" font-size="4.1" class="g" text-anchor="middle">144</text><line x1="414.60" y1="499.2" x2="414.60" y2="500.7" stroke="#444" stroke-width="0.5"/><text transform="translate(414.6,505.3) rotate(0.03)" font-size="4.1" class="g" text-anchor="middle">150</text><line x1="429.60" y1="499.2" x2="429.60" y2="500.7" stroke="#444" stroke-width="0.5"/><text transform="translate(429.6,505.3) rotate(0.03)" font-size="4.1" class="g" text-anchor="middle">156</text>
<text transform="translate(233.7,511.2) rotate(0.03)" font-size="5.1" class="k" text-anchor="middle">Time from diagnosis (months)</text>
<text transform="translate(11.4,395.8) rotate(-90)" font-size="5.1" class="k" text-anchor="middle">ID</text>
<text transform="translate(454.8,330.6) rotate(0.03)" font-size="5.1" class="k">Response</text>
<line x1="455.0" y1="337.60" x2="461.7" y2="337.60" stroke="#000" stroke-width="0.9"/><text transform="translate(465,339.8) rotate(0.03)" font-size="4.1" class="k">CR/nCR</text>
<line x1="455.0" y1="345.42" x2="461.7" y2="345.42" stroke="#000" stroke-width="0.9" stroke-dasharray="1 1.25"/><text transform="translate(465,347.72) rotate(0.03)" font-size="4.1" class="k">PR</text>
<line x1="455.0" y1="353.24" x2="461.7" y2="353.24" stroke="#000" stroke-width="0.9" stroke-dasharray="2.7 1.5"/><text transform="translate(465,355.64) rotate(0.03)" font-size="4.1" class="k">SD</text>
<text transform="translate(454.8,372.3) rotate(0.03)" font-size="5.1" class="k">Tx</text>
<rect x="454.2" y="375.10" width="8.3" height="8" fill="#FA968F" stroke="#111" stroke-width="0.36"/><text transform="translate(465,381.1) rotate(0.03)" font-size="4.1" class="k">BRAF / Other TK inhibitor</text>
<rect x="454.2" y="383.10" width="8.3" height="8" fill="#C8B53B" stroke="#111" stroke-width="0.36"/><text transform="translate(465,389.16) rotate(0.03)" font-size="4.1" class="k">Cytarabine/Cladribine</text>
<rect x="454.2" y="391.10" width="8.3" height="8" fill="#3BCA66" stroke="#111" stroke-width="0.36"/><text transform="translate(465,397.22) rotate(0.03)" font-size="4.1" class="k">MEKi</text>
<rect x="454.2" y="399.10" width="8.3" height="8" fill="#3BCED2" stroke="#111" stroke-width="0.36"/><text transform="translate(465,405.28) rotate(0.03)" font-size="4.1" class="k">MTX-based</text>
<rect x="454.2" y="407.10" width="8.3" height="8" fill="#85B3FF" stroke="#111" stroke-width="0.36"/><text transform="translate(465,413.34) rotate(0.03)" font-size="4.1" class="k">Off treatment</text>
<rect x="454.2" y="415.10" width="8.3" height="8" fill="#F788E9" stroke="#111" stroke-width="0.36"/><text transform="translate(465,421.4) rotate(0.03)" font-size="4.1" class="k">Other</text>
<text transform="translate(454.8,438.3) rotate(0.03)" font-size="5.1" class="k">Event</text>
<circle cx="458.3" cy="444.90" r="1.9" fill="#000"/><text transform="translate(465,446.8) rotate(0.03)" font-size="4.1" class="k">Death</text>
<path d="M458.30,450.15 L460.86,454.74 L455.74,454.74 Z" fill="#000"/><text transform="translate(465,454.75) rotate(0.03)" font-size="4.1" class="k">Intolerable SE</text>
<rect x="456.53" y="459.03" width="3.53" height="3.53" fill="#000"/><text transform="translate(465,462.7) rotate(0.03)" font-size="4.1" class="k">Progression</text>
<text transform="translate(454.8,480.6) rotate(0.03)" font-size="5.1" class="k">Continued treatment</text>
<line x1="454.8" y1="487.35" x2="464.7" y2="487.35" stroke="#000" stroke-width="0.75" marker-end="url(#ah)"/>
</svg>
</div></body></html>
